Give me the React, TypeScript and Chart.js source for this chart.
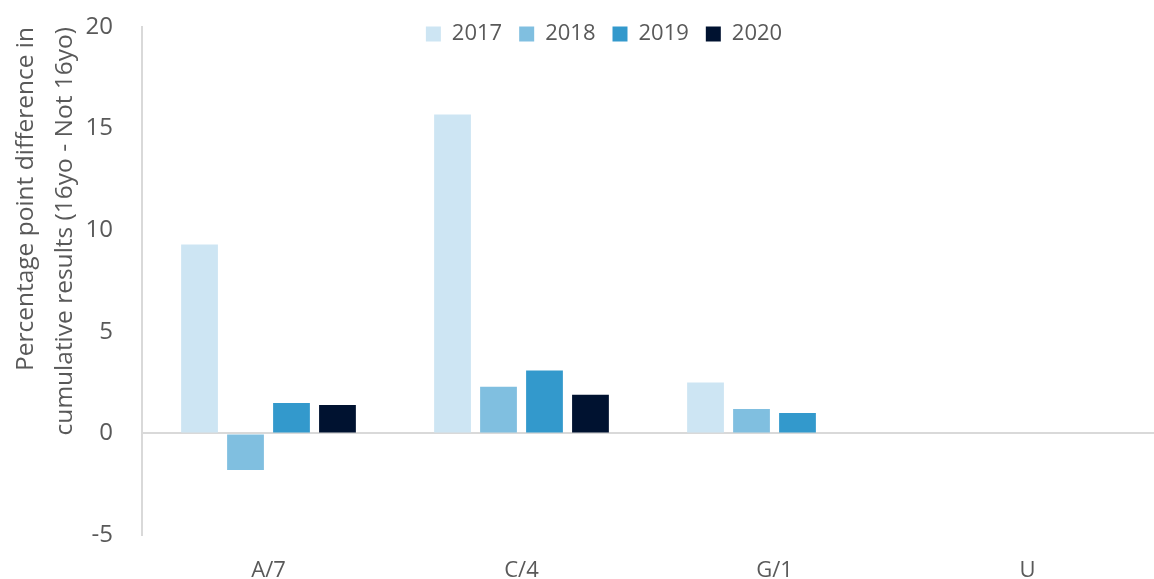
import { useEffect, useRef } from "react";
import { Chart, registerables } from "chart.js";

Chart.register(...registerables);

const categories = ["A/7", "C/4", "G/1", "U"];
const seriesLabels = ["2017", "2018", "2019", "2020"];
const values2017: (number | null)[] = [9.3, 15.7, 2.5, null];
const values2018: (number | null)[] = [-1.8, 2.3, 1.2, null];
const values2019: (number | null)[] = [1.5, 3.1, 1.0, null];
const values2020: (number | null)[] = [1.4, 1.9, null, null];
const seriesColors = ["#cde5f3", "#80bfe0", "#3399cc", "#001230"];
const yMin = -5;
const yMax = 20;
const yStep = 5;
const yTitle = ["Percentage point difference in", "cumulative results (16yo - Not 16yo)"];

const FONT = "'Open Sans', 'Noto Sans', sans-serif";
const TEXT = "#595959";
const AXIS = "#d9d9d9";
const LEGEND_TOP = 6;
const LEGEND_SHIFT = 27;

const legendPlacer = {
  id: "legendPlacer",
  afterInit(chart: any) {
    const lg = chart.legend;
    if (lg && !lg.__patched) {
      const fit = lg.fit.bind(lg);
      lg.fit = function () {
        fit();
        this.height = 0;
      };
      lg.__patched = true;
    }
  },
  afterLayout(chart: any) {
    const lg = chart.legend;
    if (!lg) return;
    lg.top = LEGEND_TOP;
    lg.bottom = LEGEND_TOP + 70;
    lg.height = 70;
    lg.left += LEGEND_SHIFT;
    lg.right += LEGEND_SHIFT;
  },
};

export default function App() {
  const ref = useRef<HTMLCanvasElement | null>(null);

  useEffect(() => {
    if (!ref.current) return;
    const series = [values2017, values2018, values2019, values2020];
    const chart = new Chart(ref.current, {
      type: "bar",
      data: {
        labels: categories,
        datasets: series.map((vals, i) => ({
          label: seriesLabels[i],
          data: vals,
          backgroundColor: seriesColors[i],
          borderWidth: 0,
          categoryPercentage: 0.727,
          barPercentage: 0.8,
        })),
      },
      options: {
        responsive: false,
        animation: false,
        layout: { padding: { top: 27, right: 0, bottom: 0, left: 0 } },
        plugins: {
          tooltip: { enabled: false },
          legend: {
            position: "top",
            align: "center",
            labels: {
              boxWidth: 15,
              boxHeight: 15,
              padding: 17,
              color: TEXT,
              font: { family: FONT, size: 22 },
            },
          },
        },
        scales: {
          x: {
            grid: { display: false, drawTicks: false },
            border: { display: false },
            ticks: { color: TEXT, font: { family: FONT, size: 22 }, padding: 23 },
            afterFit: (s: any) => {
              s.height = 44;
            },
          },
          y: {
            min: yMin,
            max: yMax,
            ticks: { stepSize: yStep, color: TEXT, font: { family: FONT, size: 24 }, padding: 29 },
            grid: {
              drawTicks: false,
              lineWidth: 2,
              color: (ctx: any) => (ctx.tick && ctx.tick.value === 0 ? AXIS : "rgba(0,0,0,0)"),
            },
            border: { display: true, color: AXIS, width: 2 },
            title: {
              display: true,
              text: yTitle,
              align: "end",
              color: TEXT,
              font: { family: FONT, size: 24.5, lineHeight: 1.6 },
              padding: { top: 6, bottom: 0 },
            },
            afterFit: (s: any) => {
              s.width = 142;
              s.paddingTop = 14;
              s.paddingBottom = 14;
            },
          },
        },
      },
      plugins: [legendPlacer],
    });
    return () => chart.destroy();
  }, []);

  return (
    <div style={{ position: "fixed", left: 0, top: 0, width: 1154, height: 579, background: "#fff" }}>
      <canvas ref={ref} width={1154} height={579} />
    </div>
  );
}
